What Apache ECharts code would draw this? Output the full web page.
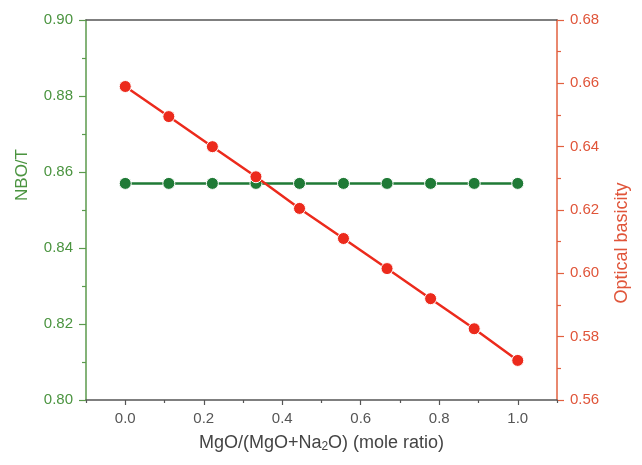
<!DOCTYPE html>
<html>
<head>
<meta charset="utf-8">
<script src="https://cdn.jsdelivr.net/npm/echarts@6/dist/echarts.min.js"></script>
<style>
  html, body { margin: 0; padding: 0; background: #fff; }
  #chart { width: 642px; height: 465px; }
</style>
</head>
<body>
<div id="chart"></div>
<script>
// Mole ratio MgO/(MgO+Na2O)
const moleRatio = [0.000, 0.111, 0.222, 0.333, 0.444, 0.556, 0.667, 0.778, 0.889, 1.000];
// Non-bridging oxygens per tetrahedron
const nboT = [0.857, 0.857, 0.857, 0.857, 0.857, 0.857, 0.857, 0.857, 0.857, 0.857];
// Optical basicity
const opticalBasicity = [0.659, 0.6495, 0.640, 0.6305, 0.6205, 0.611, 0.6015, 0.592, 0.5825, 0.5725];
// X tick labels
const xMajorTicks = [0.0, 0.2, 0.4, 0.6, 0.8, 1.0];
const xMinorTicks = [-0.1, 0.1, 0.3, 0.5, 0.7, 0.9, 1.1];

const GREEN_AXIS = '#5b9a4c';
const GREEN_TEXT = '#4b9440';
const GREEN_MARK = '#1f7a36';
const RED_AXIS = '#e2603f';
const RED_TEXT = '#e0553a';
const RED_MARK = '#ec2a1c';
const FONT = 'Liberation Sans, Arial, sans-serif';

const chart = echarts.init(document.getElementById('chart'));

const pair = (xs, ys) => xs.map((x, i) => [x, ys[i]]);

chart.setOption({
  animation: false,
  backgroundColor: '#fff',
  grid: { left: 86, right: 85, top: 20, bottom: 65 },
  // vertical axis titles
  graphic: [
    {
      type: 'text', x: 22, y: 175, rotation: Math.PI / 2,
      style: { text: 'NBO/T', fill: GREEN_TEXT, font: '17px ' + FONT, align: 'center', verticalAlign: 'middle' }
    },
    {
      type: 'text', x: 622, y: 243, rotation: Math.PI / 2,
      style: { text: 'Optical basicity', fill: RED_TEXT, font: '18px ' + FONT, align: 'center', verticalAlign: 'middle' }
    }
  ],
  xAxis: [
    {
      type: 'value', min: -0.1, max: 1.1, position: 'bottom',
      name: '{t|MgO/(MgO+Na}{s|2}{t|O) (mole ratio)}',
      nameLocation: 'middle', nameGap: 34,
      nameTextStyle: {
        rich: {
          t: { fontFamily: FONT, fontSize: 18, color: '#444' },
          s: { fontFamily: FONT, fontSize: 12, color: '#444', verticalAlign: 'bottom', padding: [7, 0, 0, 0] }
        }
      },
      axisLine: { show: true, onZero: false, lineStyle: { color: '#555', width: 1.5 } },
      axisTick: { show: true, length: 5, customValues: xMajorTicks, lineStyle: { color: '#555', width: 1.2 } },
      axisLabel: {
        customValues: xMajorTicks, color: '#555', fontFamily: FONT, fontSize: 15, margin: 11,
        formatter: v => v.toFixed(1)
      },
      splitLine: { show: false }
    },
    {
      // minor ticks along the bottom axis
      type: 'value', min: -0.1, max: 1.1, position: 'bottom',
      axisLine: { show: false },
      axisTick: { show: true, length: 3, customValues: xMinorTicks, lineStyle: { color: '#555', width: 1.2 } },
      axisLabel: { show: false },
      splitLine: { show: false }
    },
    {
      // top frame line
      type: 'value', min: -0.1, max: 1.1, position: 'top',
      axisLine: { show: true, onZero: false, lineStyle: { color: '#555', width: 1.5 } },
      axisTick: { show: false }, axisLabel: { show: false }, splitLine: { show: false }
    }
  ],
  yAxis: [
    {
      type: 'value', min: 0.80, max: 0.90, interval: 0.02, position: 'left',
      axisLine: { show: true, onZero: false, lineStyle: { color: GREEN_AXIS, width: 1.5 } },
      axisTick: { show: true, length: 7, lineStyle: { color: GREEN_AXIS, width: 1.2 } },
      minorTick: { show: true, splitNumber: 2, length: 4, lineStyle: { color: GREEN_AXIS, width: 1.2 } },
      axisLabel: { color: GREEN_TEXT, fontFamily: FONT, fontSize: 15, margin: 13, formatter: v => v.toFixed(2) },
      splitLine: { show: false }
    },
    {
      type: 'value', min: 0.56, max: 0.68, interval: 0.02, position: 'right',
      axisLine: { show: true, onZero: false, lineStyle: { color: RED_AXIS, width: 1.5 } },
      axisTick: { show: true, length: 7, lineStyle: { color: RED_AXIS, width: 1.2 } },
      minorTick: { show: true, splitNumber: 2, length: 4, lineStyle: { color: RED_AXIS, width: 1.2 } },
      axisLabel: { color: RED_TEXT, fontFamily: FONT, fontSize: 15, margin: 13, formatter: v => v.toFixed(2) },
      splitLine: { show: false }
    }
  ],
  series: [
    {
      name: 'NBO/T', type: 'line', xAxisIndex: 0, yAxisIndex: 0,
      data: pair(moleRatio, nboT),
      symbol: 'circle', symbolSize: 12,
      lineStyle: { color: GREEN_MARK, width: 2.5 },
      itemStyle: { color: GREEN_MARK, borderColor: '#fff', borderWidth: 1 },
      z: 2
    },
    {
      name: 'Optical basicity', type: 'line', xAxisIndex: 0, yAxisIndex: 1,
      data: pair(moleRatio, opticalBasicity),
      symbol: 'circle', symbolSize: 12,
      lineStyle: { color: RED_MARK, width: 2.5 },
      itemStyle: { color: RED_MARK, borderColor: '#fff', borderWidth: 1 },
      z: 3
    }
  ]
});
</script>
</body>
</html>
